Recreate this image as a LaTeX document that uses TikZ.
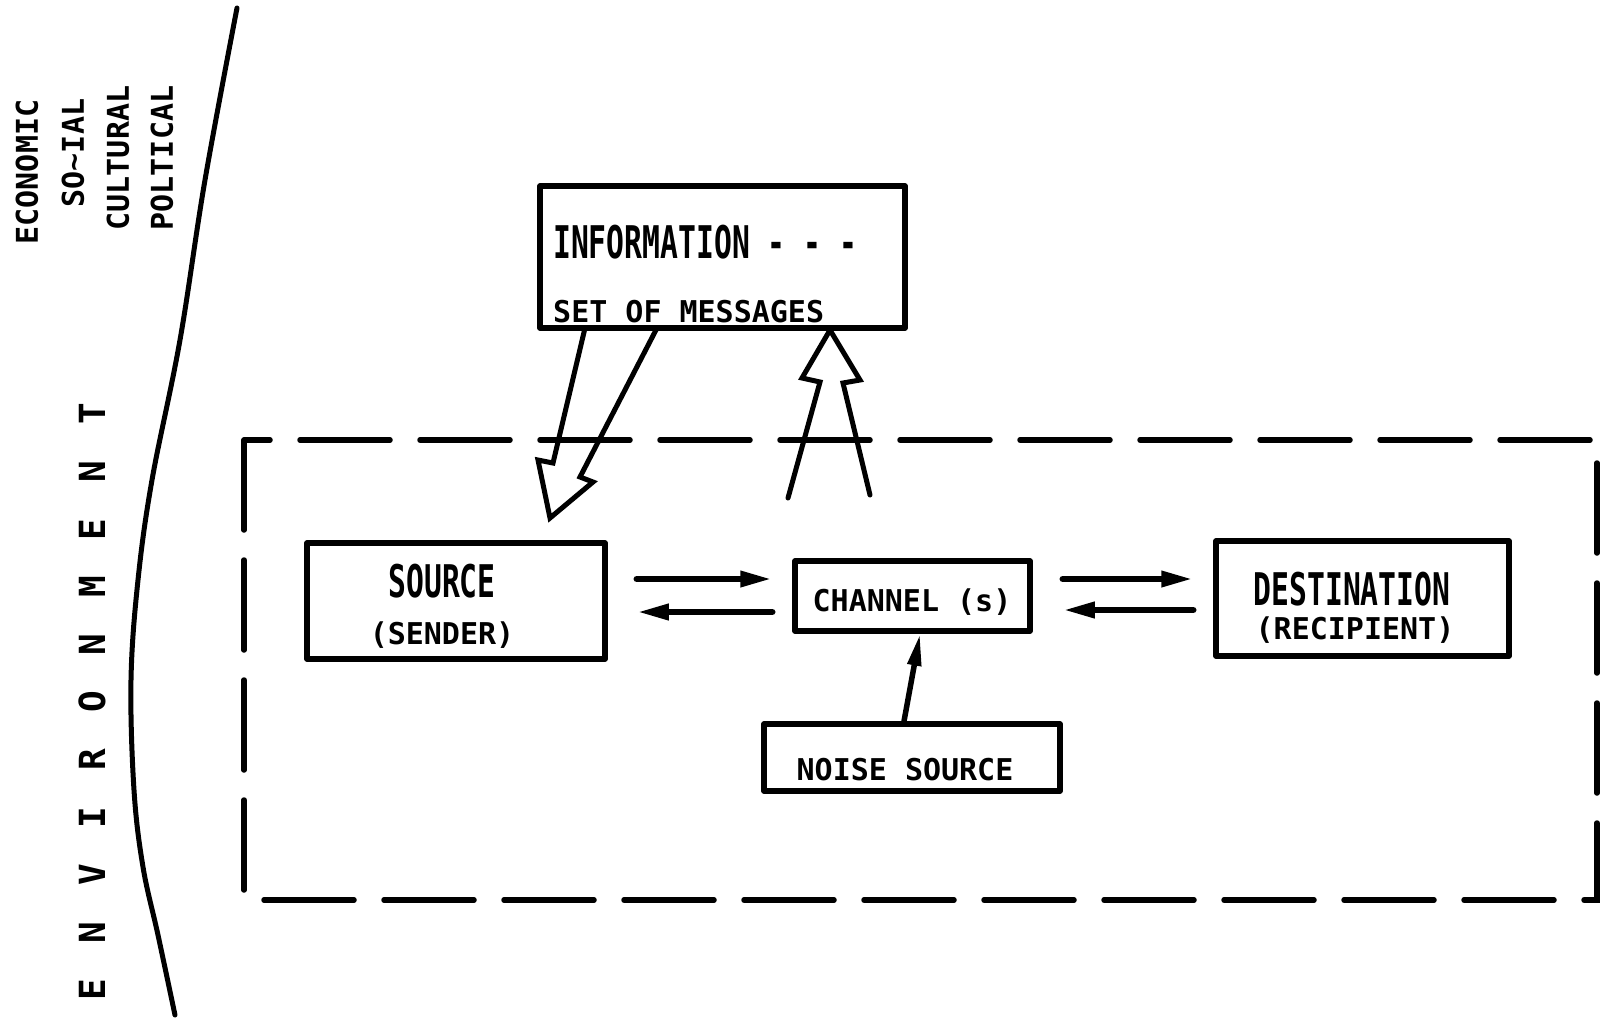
\documentclass[tikz,border=0pt]{standalone}
\usepackage{fontspec}
\usetikzlibrary{arrows.meta,calc}
\newfontfamily\labfont{DejaVu Sans Mono}
\newfontfamily\tallfont[FakeStretch=0.66]{DejaVu Sans Mono}
\begin{document}
\begin{tikzpicture}[x=1pt,y=-1pt,
  box/.style={draw, line width=5.5pt, inner sep=0pt, line join=round},
  lab/.style={font=\labfont\bfseries\fontsize{30}{30}\selectfont, inner sep=0pt},
  tall/.style={font=\tallfont\bfseries\fontsize{45}{45}\selectfont, inner sep=0pt},
  envl/.style={font=\labfont\bfseries\fontsize{36}{36}\selectfont, inner sep=0pt},
  arr/.style={line width=6.5pt, line cap=round, -{Triangle[length=32pt,width=15pt]}},
  hollow/.style={line width=5pt, line join=miter, line cap=round},
  envbox/.style={line width=5.5pt, line cap=round, dash pattern=on 90pt off 30pt}]
\fill[white] (0,0) rectangle (1606,1028);
\useasboundingbox (0,0) rectangle (1606,1028);

% environment boundary curve
\draw[line width=5pt, line cap=round] plot[smooth, tension=0.6] coordinates
  {(237,8) (205,180) (180,340) (152,480) (138,580) (131,680) (134,790) (143,867) (158,935) (175,1015)};

% rotated factor labels
\node[lab, rotate=90] (eco) at (27,172) {ECONOMIC};
\node[lab, rotate=90] (soc) at (73,153) {SO\textasciitilde IAL};
\node[lab, rotate=90] (cul) at (118,158) {CULTURAL};
\node[lab, rotate=90] (pol) at (162,158) {POLTICAL};

% ENVIRONMENT letters
\foreach \l [count=\i from 0] in {E,N,V,I,R,O,N,M,E,N,T}
  \node[envl, rotate=90] (env\i) at (92,{990-57.6*\i}) {\l};

% dashed system boundary
\draw[envbox] (244,440) rectangle (1597,900);

% boxes
\node[box, minimum width=365pt, minimum height=142pt] (info) at (722.5,257) {};
\node[tall, anchor=base west] (infot) at (553,258) {INFORMATION - - -};
\node[lab, anchor=base west] (msgs) at (553,322) {SET OF MESSAGES};

\node[box, minimum width=298pt, minimum height=116pt] (src) at (456,601) {};
\node[tall, anchor=base] (srct) at (442,597) {SOURCE};
\node[lab, anchor=base] (srcs) at (442,644) {(SENDER)};

\node[box, minimum width=235pt, minimum height=70pt] (chan) at (912.5,596) {};
\node[lab, anchor=base] (chant) at (912,611) {CHANNEL (s)};

\node[box, minimum width=293pt, minimum height=115pt] (dest) at (1362.5,598.5) {};
\node[tall, anchor=base] (destt) at (1352,605) {DESTINATION};
\node[lab, anchor=base] (dests) at (1355,639) {(RECIPIENT)};

\node[box, minimum width=296pt, minimum height=67pt] (noise) at (912,757.5) {};
\node[lab, anchor=base] (noiset) at (905,780) {NOISE SOURCE};

% horizontal arrows
\coordinate (rowA) at (0,579);
\coordinate (rowB) at (0,612);
\coordinate (rowC) at (0,610);
\draw[arr, shorten <=29pt, shorten >=20pt] (src.east |- rowA) -- (chan.west |- rowA);
\draw[arr, shorten <=20pt, shorten >=29pt] (chan.west |- rowB) -- (src.east |- rowB);
\draw[arr, shorten <=30pt, shorten >=20pt] (chan.east |- rowA) -- (dest.west |- rowA);
\draw[arr, shorten <=20pt, shorten >=30pt] (dest.west |- rowC) -- (chan.east |- rowC);

% noise arrow
\draw[line width=5.5pt, -{Triangle[length=32pt,width=13pt]}] ([xshift=-8pt]noise.north) -- ([xshift=7.5pt]chan.south);

% hollow block arrows
\draw[hollow] (585,328) -- (553,463) -- (538,460) -- (550,518) -- (593,482) -- (580,477) -- (657,328);
\draw[hollow] (788,498) -- (820,382) -- (802,378) -- (830,330) -- (860,380) -- (843,383) -- (870,495);
\end{tikzpicture}
\end{document}
